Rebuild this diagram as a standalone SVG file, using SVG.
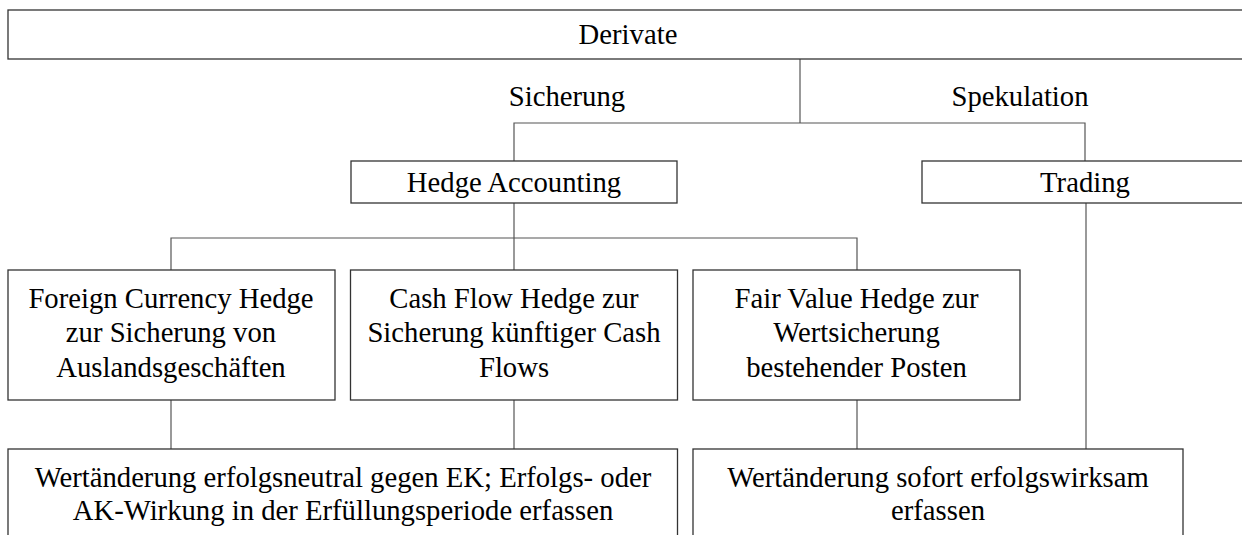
<svg xmlns="http://www.w3.org/2000/svg" width="1242" height="535" viewBox="0 0 1242 535">
  <style>
    .box { fill: #ffffff; stroke: #333333; stroke-width: 1.3; }
    .wire { fill: none; stroke: #555555; stroke-width: 1.2; }
    .t { font-family: "Liberation Serif", "Times New Roman", serif; font-size: 28.7px; fill: #000000; text-anchor: middle; }
  </style>
  <rect width="1242" height="535" fill="#ffffff"/>

  <!-- connectors -->
  <g id="connectors" class="wire">
    <path d="M800,59 V123"/>
    <path d="M514,161 V123 H1085 V161"/>
    <path d="M514,203 V270"/>
    <path d="M171,270 V238 H857 V270"/>
    <path d="M171,400 V449"/>
    <path d="M514,400 V449"/>
    <path d="M857,400 V449"/>
    <path d="M1086,203 V449"/>
  </g>

  <!-- branch labels -->
  <g id="labels">
    <text class="t" x="567" y="106">Sicherung</text>
    <text class="t" x="1020" y="106">Spekulation</text>
  </g>

  <g id="derivate">
    <rect class="box" x="8" y="10" width="1244" height="49"/>
    <text class="t" x="628" y="44">Derivate</text>
  </g>

  <g id="hedge-accounting">
    <rect class="box" x="351" y="161" width="326" height="42"/>
    <text class="t" x="514" y="192">Hedge Accounting</text>
  </g>

  <g id="trading">
    <rect class="box" x="922" y="161" width="330" height="42"/>
    <text class="t" x="1085" y="192">Trading</text>
  </g>

  <g id="foreign-currency-hedge">
    <rect class="box" x="8" y="270" width="327" height="130"/>
    <text class="t" x="171" y="308">Foreign Currency Hedge</text>
    <text class="t" x="171" y="342">zur Sicherung von</text>
    <text class="t" x="171" y="377">Auslandsgeschäften</text>
  </g>

  <g id="cash-flow-hedge">
    <rect class="box" x="350.5" y="270" width="327" height="130"/>
    <text class="t" x="514" y="308">Cash Flow Hedge zur</text>
    <text class="t" x="514" y="342">Sicherung künftiger Cash</text>
    <text class="t" x="514" y="377">Flows</text>
  </g>

  <g id="fair-value-hedge">
    <rect class="box" x="693" y="270" width="327" height="130"/>
    <text class="t" x="856.5" y="308">Fair Value Hedge zur</text>
    <text class="t" x="856.5" y="342">Wertsicherung</text>
    <text class="t" x="856.5" y="377">bestehender Posten</text>
  </g>

  <g id="equity-treatment">
    <rect class="box" x="8" y="449" width="669.5" height="100"/>
    <text class="t" x="343" y="487">Wertänderung erfolgsneutral gegen EK; Erfolgs- oder</text>
    <text class="t" x="343" y="520">AK-Wirkung in der Erfüllungsperiode erfassen</text>
  </g>

  <g id="income-treatment">
    <rect class="box" x="693" y="449" width="490" height="100"/>
    <text class="t" x="938" y="487">Wertänderung sofort erfolgswirksam</text>
    <text class="t" x="938" y="520">erfassen</text>
  </g>
</svg>
